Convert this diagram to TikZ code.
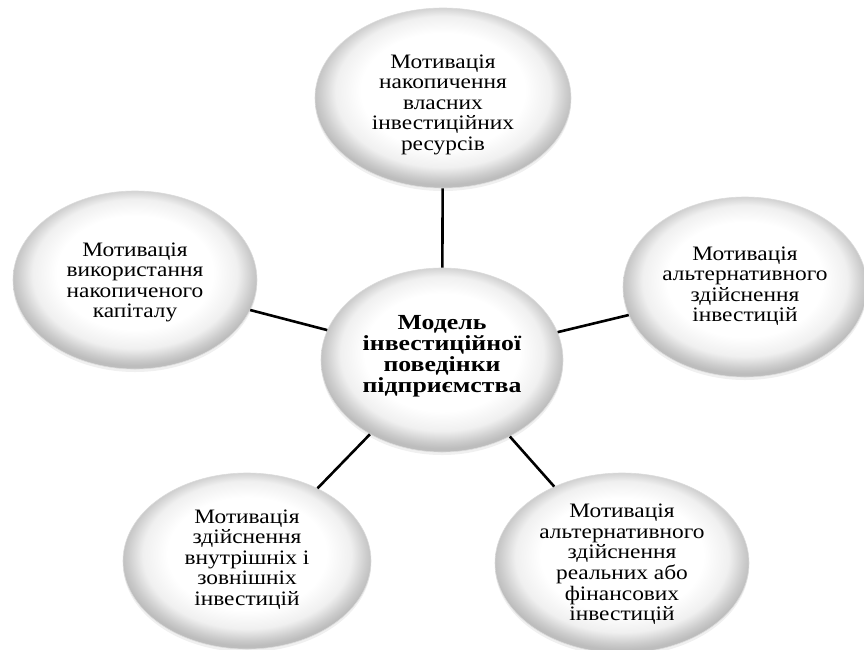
\documentclass[tikz,border=0pt]{standalone}
\usepackage{fontspec}
\usepackage{graphicx}
\setmainfont{Liberation Serif}
\usetikzlibrary{shapes.geometric,shadows}
\pgfdeclareradialshading{sphereshade}{\pgfpoint{0bp}{3bp}}{%
  color(0bp)=(white); color(16bp)=(white); color(21bp)=(black!6);
  color(24bp)=(black!20); color(25.5bp)=(black!26); color(50bp)=(black!26)}
\newcommand\stxt[1]{\scalebox{1.14}[1]{\begin{tabular}{@{}c@{}}#1\end{tabular}}}
\newcommand\btxt[1]{\scalebox{1.2}[1]{\begin{tabular}{@{}c@{}}#1\end{tabular}}}
\tikzset{
  bubble/.style={ellipse, inner sep=0pt, draw=black!14, line width=0.6pt,
    shading=sphereshade,
    drop shadow={opacity=0.12, shadow xshift=0pt, shadow yshift=-3pt}},
  label text/.style={inner sep=0pt, font=\fontsize{20.5}{20.5}\selectfont, text=black},
  main text/.style={inner sep=0pt, font=\fontsize{21.5}{20.5}\selectfont\bfseries, text=black},
  link/.style={line width=2.6pt, black}
}
\begin{document}
\begin{tikzpicture}[x=1pt,y=-1pt]
\useasboundingbox (0,0) rectangle (864,649);
\node[bubble, minimum width=256pt, minimum height=180pt] (T) at (443,98) {};
\node[bubble, minimum width=242pt, minimum height=184pt] (C) at (442,360) {};
\node[bubble, minimum width=244pt, minimum height=178pt] (L) at (135,280) {};
\node[bubble, minimum width=244pt, minimum height=180pt] (R) at (745,287) {};
\node[bubble, minimum width=248pt, minimum height=176pt] (BL) at (247,561) {};
\node[bubble, minimum width=254pt, minimum height=180pt] (BR) at (622,563) {};
\node[label text, yshift=-7pt] (Tt) at (T)
  {\stxt{Мотивація\\накопичення\\власних\\інвестиційних\\ресурсів}};
\node[main text, yshift=3pt] (Ct) at (C)
  {\btxt{Модель\\інвестиційної\\поведінки\\підприємства}};
\node[label text, yshift=-3pt] (Lt) at (L)
  {\stxt{Мотивація\\використання\\накопиченого\\капіталу}};
\node[label text] (Rt) at (R)
  {\stxt{Мотивація\\альтернативного\\здійснення\\інвестицій}};
\node[label text, yshift=1pt] (BLt) at (BL)
  {\stxt{Мотивація\\здійснення\\внутрішніх і\\зовнішніх\\інвестицій}};
\node[label text, yshift=-2pt] (BRt) at (BR)
  {\stxt{Мотивація\\альтернативного\\здійснення\\реальних або\\фінансових\\інвестицій}};
\draw[link] (C) -- (T);
\draw[link] (C) -- (L);
\draw[link] (C) -- (R);
\draw[link] (C) -- (BL);
\draw[link] (C) -- (BR);
\end{tikzpicture}
\end{document}
